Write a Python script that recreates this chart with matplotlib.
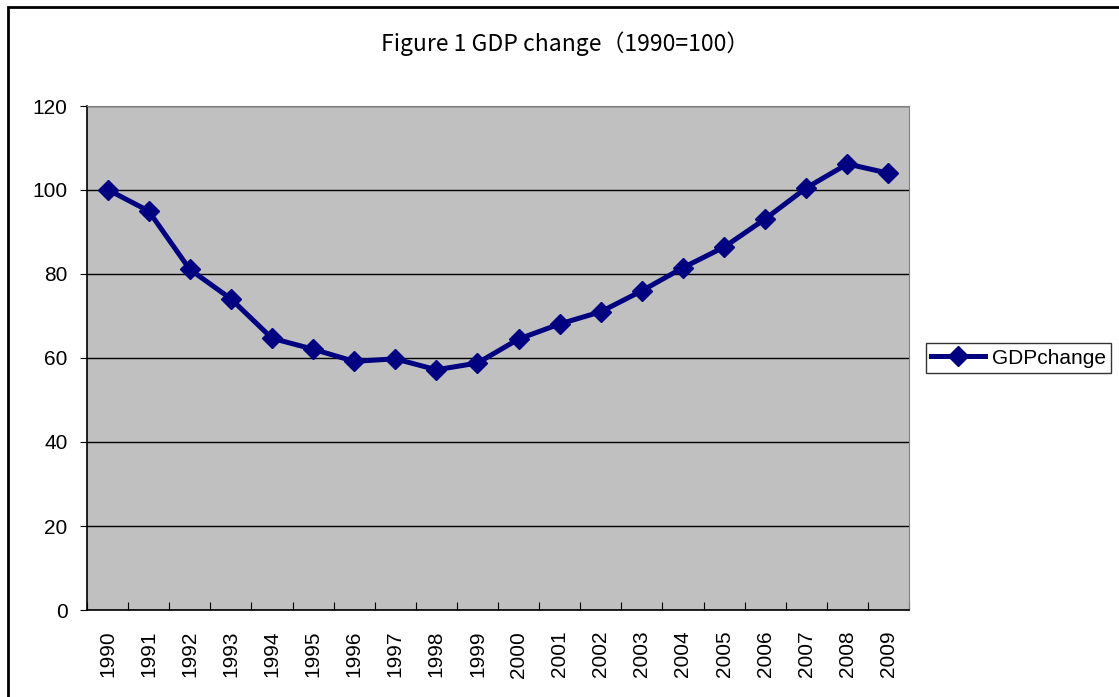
import matplotlib.pyplot as plt
from matplotlib.patches import Rectangle
from matplotlib.lines import Line2D

# data
years = [str(y) for y in range(1990, 2010)]
gdp_change = [100.1, 95.0, 81.1, 74.1, 64.7, 62.1, 59.2, 59.8, 57.2, 58.8,
              64.5, 68.1, 71.0, 76.0, 81.5, 86.4, 93.1, 100.5, 106.2, 104.0]
y_ticks = [0, 20, 40, 60, 80, 100, 120]

W, H = 1119, 697
fig = plt.figure(figsize=(W / 100, H / 100), dpi=100)

# plot area placed like the Excel chart
left, right, top, bottom = 87, 909, 106, 610
ax = fig.add_axes([left / W, 1 - bottom / H, (right - left) / W, (bottom - top) / H])
ax.set_facecolor('#C0C0C0')

x = list(range(len(years)))
ax.plot(x, gdp_change, color='#000080', lw=3.6, marker='D', ms=10.5,
        markeredgecolor='#000080', markeredgewidth=1, zorder=3, clip_on=False)

ax.set_xlim(-0.5, len(years) - 0.5)
ax.set_ylim(0, 120)
ax.set_yticks(y_ticks)
ax.set_yticklabels([str(v) for v in y_ticks], fontsize=15, family='Liberation Sans')
ax.grid(axis='y', color='black', lw=1)
ax.set_axisbelow(True)

# category ticks sit between categories, labels at centres
ax.set_xticks([i - 0.5 for i in range(len(years) + 1)])
ax.set_xticklabels([])
ax.set_xticks(x, minor=True)
ax.set_xticklabels(years, minor=True, rotation=90, fontsize=15, family='Liberation Sans')
ax.tick_params(axis='x', which='minor', length=0, pad=15)
ax.tick_params(axis='x', which='major', length=6, direction='in', color='black')
ax.tick_params(axis='y', length=5, direction='out', pad=9, color='black')

for s in ['top', 'right']:
    ax.spines[s].set_color('#808080')
for s in ['left', 'bottom']:
    ax.spines[s].set_color('black')
    ax.spines[s].set_linewidth(1.2)

fig.text(565 / W, 1 - 44 / H, 'Figure 1 GDP change（1990=100）',
         ha='center', va='center', fontsize=16.5,
         family=['Noto Sans CJK JP', 'DejaVu Sans'])

handle = Line2D([], [], color='#000080', lw=3.6, marker='D', ms=10.5,
                markeredgecolor='#000080')
leg = fig.legend([handle], ['GDPchange'], loc='center left',
                 bbox_to_anchor=(926 / W, 1 - 358 / H),
                 prop={'family': 'Liberation Sans', 'size': 15},
                 frameon=True, fancybox=False, handlelength=2.6,
                 borderpad=0.25, handletextpad=0.3, borderaxespad=0)
leg.get_frame().set_edgecolor('black')
leg.get_frame().set_linewidth(1)

# outer chart border (right and bottom edges run off the picture)
fig.patches.append(Rectangle((8 / W, -0.1), 1.2, 1 - 7 / H + 0.1,
                             transform=fig.transFigure, fill=False,
                             edgecolor='black', lw=2))

fig.savefig('out.png', dpi=100)
